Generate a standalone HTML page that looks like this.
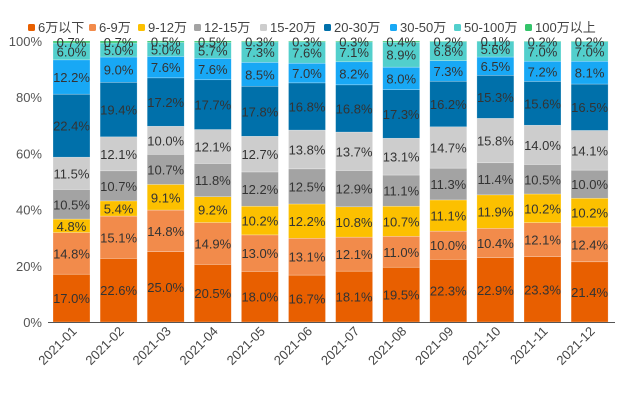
<!DOCTYPE html><html><head><meta charset="utf-8"><style>body{margin:0;background:#fff}svg{display:block;font-family:"Liberation Sans","Noto Sans CJK SC",sans-serif}</style></head><body>
<svg id="s" width="620" height="413" xmlns="http://www.w3.org/2000/svg"></svg>
<script>
const D=[[17.0,14.8,4.8,10.5,11.5,22.4,12.2,6.0,0.7],[22.6,15.1,5.4,10.7,12.1,19.4,9.0,5.0,0.7],[25.0,14.8,9.1,10.7,10.0,17.2,7.6,5.0,0.5],[20.5,14.9,9.2,11.8,12.1,17.7,7.6,5.7,0.5],[18.0,13.0,10.2,12.2,12.7,17.8,8.5,7.3,0.3],[16.7,13.1,12.2,12.5,13.8,16.8,7.0,7.6,0.3],[18.1,12.1,10.8,12.9,13.7,16.8,8.2,7.1,0.3],[19.5,11.0,10.7,11.1,13.1,17.3,8.0,8.9,0.4],[22.3,10.0,11.1,11.3,14.7,16.2,7.3,6.8,0.2],[22.9,10.4,11.9,11.4,15.8,15.3,6.5,5.6,0.1],[23.3,12.1,10.2,10.5,14.0,15.6,7.2,7.0,0.2],[21.4,12.4,10.2,10.0,14.1,16.5,8.1,7.0,0.2]];
const C=["#e85f00","#f28b4b","#fcc000","#a3a3a3","#cdcdcd","#0070aa","#18a8f5","#52cfcc","#34c46a"];
const N=["6万以下","6-9万","9-12万","12-15万","15-20万","20-30万","30-50万","50-100万","100万以上"];
let h="";const y0=322,H=281;
[0,20,40,60,80,100].forEach(v=>{h+=`<text x="42" y="${y0-H*v/100+5}" text-anchor="end" font-size="13" fill="#555">${v}%</text>`});
const lx=[28,89,138,194,260,324,390,454,525];
N.forEach((n,i)=>{h+=`<rect x="${lx[i]}" y="24" width="7" height="7" rx="1.5" fill="${C[i]}"/><text x="${lx[i]+10}" y="32" font-size="13" fill="#444">${n}</text>`});
D.forEach((r,j)=>{const s=r.reduce((a,b)=>a+b,0);let c=0;const x=53+j*47.1,w=37;
r.forEach((v,i)=>{const ya=y0-H*c/s,yb=y0-H*(c+v)/s;c+=v;
h+=`<rect x="${x}" y="${yb}" width="${w}" height="${ya-yb}" fill="${C[i]}" stroke="#fff" stroke-opacity=".5" stroke-width=".5"/>`;
h+=`<text x="${x+w/2}" y="${(ya+yb)/2+5}" text-anchor="middle" font-size="13" fill="#333">${v.toFixed(1)}%</text>`;});
const m=String(j+1).padStart(2,"0");
h+=`<text transform="translate(${x+w/2+6},332) rotate(-45)" text-anchor="end" font-size="13" fill="#444">2021-${m}</text>`;});
h+=`<line x1="48" y1="322.5" x2="615" y2="322.5" stroke="#555"/>`;
document.getElementById("s").innerHTML=h;
</script></body></html>
